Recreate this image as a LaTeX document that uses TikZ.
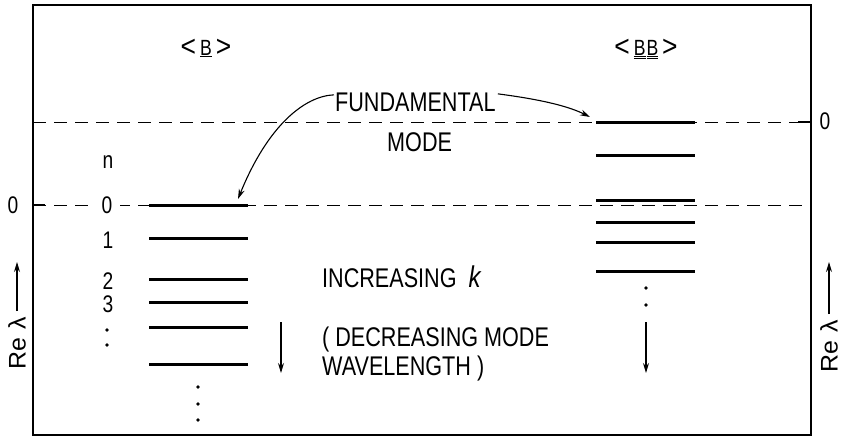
\documentclass[tikz,border=0pt]{standalone}
\usepackage{fontspec}
\usepackage{graphicx}
\setmainfont{Liberation Sans}[FakeStretch=0.8]
\usetikzlibrary{arrows.meta}
\tikzset{
  frame/.style={line width=1.4pt},
  dashline/.style={line width=1pt, dash pattern=on 13pt off 8pt},
  level/.style={line width=3pt},
  arr/.style={line width=1.1pt, -{Stealth[length=10pt,width=6pt]}},
  txt/.style={inner sep=0pt, anchor=base west, font=\fontsize{27}{30}\selectfont},
  lbl/.style={inner sep=0pt, anchor=base, font=\fontsize{24}{26}\selectfont},
  ttl/.style={inner sep=0pt, anchor=base, font=\fontsize{22}{26}\selectfont},
  dot/.style={circle, fill, inner sep=0pt, minimum size=3.6pt}
}
\newcommand{\ulB}{\underline{B}}
\newcommand{\uulB}{\underline{\underline{B}}}
\newcommand{\lang}{\raisebox{-1.5pt}{\scalebox{1.5}[1.35]{<}}}
\newcommand{\rang}{\raisebox{-1.5pt}{\scalebox{1.5}[1.35]{>}}}
\newcommand{\relam}{\scalebox{1.3}[1]{Re\hspace{6pt}λ}}
\begin{document}
\begin{tikzpicture}[x=1pt,y=-1pt]
\useasboundingbox (0,0) rectangle (841,437);
\fill[white] (0,0) rectangle (841,437);
% frame
\draw[frame] (33,5) rectangle (811,435);
% dashed reference lines
\draw[dashline] (33,122) -- (811,122);
\draw[dashline] (33,205) -- (811,205);
\draw[frame] (33,205) -- (45,205);
\draw[frame] (798,122) -- (811,122);
% axis zero labels
\node[lbl] (z0l) at (13,213) {0};
\node[lbl] (z0r) at (825,129) {0};
% titles
\node[ttl] (tB) at (206,55) {\lang\hspace{4pt}\ulB\hspace{4pt}\rang};
\node[ttl] (tBB) at (646,55) {\lang\hspace{4pt}\uulB\hspace{1pt}\uulB\hspace{4pt}\rang};
% left levels
\foreach \y in {205,238,279,302,327,364} \draw[level] (149,\y) -- (248,\y);
\coordinate (lev0) at (238,199);
% right levels
\foreach \y in {122,155,200,222,242,271} \draw[level] (596,\y) -- (695,\y);
\coordinate (rlev0) at (590,117);
% n labels
\node[lbl] (n) at (108,168) {n};
\node[lbl, fill=white, inner xsep=8pt, inner ysep=1pt] (n0) at (107,213) {0};
\node[lbl] (n1) at (108,248) {1};
\node[lbl] (n2) at (108,289) {2};
\node[lbl] (n3) at (108,312) {3};
\node[dot] (d1) at (107,330) {};
\node[dot] (d2) at (107,345) {};
% dots below levels
\node[dot] (e1) at (198,387) {};
\node[dot] (e2) at (198,404) {};
\node[dot] (e3) at (198,420) {};
\node[dot] (f1) at (646,288) {};
\node[dot] (f2) at (646,305) {};
% fundamental mode
\node[txt] (fund) at (335,111) {FUNDAMENTAL};
\node[txt] (mode) at (387,151) {MODE};
\draw[arr] (fund.west) ++(-1,-7) .. controls (305,96) and (268,125) .. (lev0);
\draw[arr] (fund.east) ++(2,-8) .. controls (545,100) and (570,107) .. (rlev0);
% increasing k text
\node[txt] (inc) at (322,287) {INCREASING\hspace{12pt}{\fontsize{30}{30}\selectfont$\mathit{k}$}};
\node[txt] (dec) at (322,346) {( DECREASING MODE};
\node[txt] (wav) at (322,375) {WAVELENGTH )};
% down arrows
\coordinate (la1) at (281,322); \coordinate (la2) at (281,373);
\draw[arr] (la1) -- (la2);
\coordinate (ra1) at (646,322); \coordinate (ra2) at (646,373);
\draw[arr] (ra1) -- (ra2);
% Re lambda axes
\node[lbl, rotate=90, anchor=center] (rel) at (17,343) {\relam};
\coordinate (lt) at (17,262); \coordinate (lb) at (17,311);
\draw[arr] (lb) -- (lt);
\node[lbl, rotate=90, anchor=center] (rer) at (829,346) {\relam};
\coordinate (rt) at (829,262); \coordinate (rb) at (829,314);
\draw[arr] (rb) -- (rt);
\end{tikzpicture}
\end{document}
